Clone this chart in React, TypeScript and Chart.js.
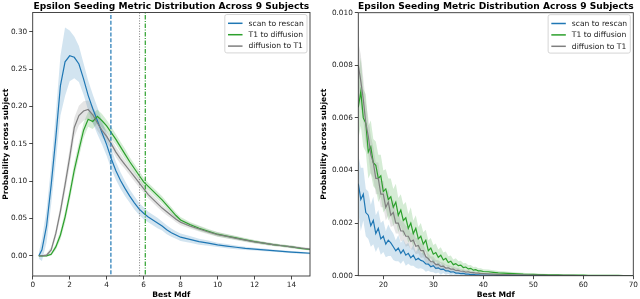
import React, { useEffect, useRef } from "react";
import { Chart, registerables } from "chart.js";
Chart.register(...registerables);

const TITLE = "Epsilon Seeding Metric Distribution Across 9 Subjects";
const X_LABEL = "Best Mdf";
const Y_LABEL = "Probability across subject";
const SERIES_LABELS = ["scan to rescan", "T1 to diffusion", "diffusion to T1"];
const COLORS = ["#1f77b4", "#2ca02c", "#7f7f7f"];
const BAND_COLORS = ["rgba(31,119,180,0.2)", "rgba(44,160,44,0.2)", "rgba(127,127,127,0.2)"];
const THRESHOLD_DASH = [[4, 1.8], [4.5, 1.5, 1, 1.5], [1, 1.6]];
const THRESHOLD_WIDTH = [1.2, 1.2, 1];

// ---------- Left panel (0..15) ----------
const leftX = [0.33, 0.5, 0.75, 1, 1.25, 1.5, 1.75, 2, 2.25, 2.5, 2.75, 3, 3.25, 3.5, 3.75, 4, 4.25, 4.5, 4.75, 5,
  5.25, 5.5, 5.75, 6, 6.25, 6.5, 6.75, 7, 7.25, 7.5, 7.75, 8, 8.5, 9, 9.5, 10, 10.5, 11, 11.5, 12, 12.5, 13, 13.5, 14, 14.5, 15];
const leftScanMean = [0, 0.008, 0.04, 0.095, 0.158, 0.228, 0.26, 0.268, 0.266, 0.257, 0.237, 0.215, 0.197, 0.181, 0.165,
  0.149, 0.13, 0.114, 0.101, 0.09, 0.08, 0.071, 0.063, 0.057, 0.052, 0.048, 0.044, 0.04, 0.035, 0.031, 0.028, 0.025,
  0.022, 0.019, 0.017, 0.0147, 0.013, 0.0115, 0.01, 0.009, 0.008, 0.007, 0.006, 0.005, 0.0042, 0.0035];
const leftScanSpread = [0.004, 0.015, 0.022, 0.026, 0.032, 0.04, 0.046, 0.034, 0.028, 0.024, 0.021, 0.02, 0.019, 0.018, 0.016,
  0.015, 0.014, 0.012, 0.011, 0.01, 0.009, 0.009, 0.008, 0.008, 0.007, 0.007, 0.007, 0.006, 0.006, 0.0055, 0.005, 0.005,
  0.0045, 0.004, 0.0035, 0.003, 0.0028, 0.0025, 0.0022, 0.002, 0.0018, 0.0016, 0.0015, 0.0014, 0.0013, 0.0012];
const leftT1Mean = [0, 0, 0, 0.002, 0.012, 0.028, 0.052, 0.082, 0.115, 0.142, 0.168, 0.183, 0.18, 0.187, 0.181,
  0.174, 0.165, 0.156, 0.146, 0.136, 0.126, 0.117, 0.108, 0.099, 0.093, 0.087, 0.081, 0.075, 0.068, 0.061, 0.054, 0.048,
  0.042, 0.037, 0.033, 0.029, 0.0265, 0.024, 0.0215, 0.019, 0.017, 0.015, 0.0135, 0.012, 0.01, 0.0085];
const leftT1Spread = [0.001, 0.001, 0.001, 0.002, 0.004, 0.006, 0.008, 0.009, 0.01, 0.01, 0.01, 0.01, 0.01, 0.009, 0.009,
  0.008, 0.008, 0.007, 0.007, 0.007, 0.006, 0.006, 0.006, 0.006, 0.005, 0.005, 0.005, 0.005, 0.0045, 0.0045, 0.004, 0.004,
  0.0035, 0.0035, 0.003, 0.003, 0.0028, 0.0026, 0.0024, 0.0022, 0.002, 0.0019, 0.0018, 0.0017, 0.0016, 0.0015];
const leftDiffMean = [0, 0, 0.001, 0.008, 0.03, 0.06, 0.095, 0.132, 0.172, 0.188, 0.194, 0.196, 0.189, 0.178, 0.168,
  0.16, 0.15, 0.139, 0.13, 0.122, 0.114, 0.106, 0.098, 0.09, 0.082, 0.076, 0.07, 0.064, 0.059, 0.054, 0.049, 0.045,
  0.04, 0.036, 0.032, 0.0285, 0.026, 0.0235, 0.021, 0.0187, 0.017, 0.015, 0.0135, 0.012, 0.0105, 0.009];
const leftDiffSpread = [0.001, 0.001, 0.002, 0.004, 0.006, 0.008, 0.01, 0.012, 0.013, 0.013, 0.013, 0.012, 0.011, 0.01, 0.009,
  0.008, 0.007, 0.007, 0.007, 0.006, 0.006, 0.006, 0.006, 0.005, 0.005, 0.005, 0.005, 0.0045, 0.0045, 0.004, 0.004, 0.004,
  0.0035, 0.0035, 0.003, 0.003, 0.0028, 0.0026, 0.0024, 0.0022, 0.002, 0.0019, 0.0018, 0.0017, 0.0016, 0.0015];
// Median thresholds: scan to rescan, T1 to diffusion, diffusion to T1
const leftThresholds = [4.23, 6.09, 5.78];
const leftXTicks = [0, 2, 4, 6, 8, 10, 12, 14];
const leftYTicks = [0, 0.05, 0.1, 0.15, 0.2, 0.25, 0.3];

// ---------- Right panel (15..70) ----------
const rightX = [15, 15.5, 16, 16.5, 17, 17.5, 18, 18.5, 19, 19.5,
  20, 20.5, 21, 21.5, 22, 22.5, 23, 23.5, 24, 24.5,
  25, 25.5, 26, 26.5, 27, 27.5, 28, 28.5, 29, 29.5,
  30, 30.5, 31, 31.5, 32, 32.5, 33, 33.5, 34, 34.5,
  35, 35.5, 36, 36.5, 37, 37.5, 38, 38.5, 39, 39.5,
  40, 41, 42, 43, 44, 45, 46, 47, 48, 49,
  50, 51, 52, 53, 54, 55, 56, 57, 58, 59,
  60, 61, 62, 63, 64, 65, 66, 67, 68, 69, 70];
const rightScanMean = [0.0035, 0.0029, 0.0031, 0.0024, 0.0023, 0.0019, 0.0021, 0.0016, 0.0018, 0.0014,
  0.0015, 0.0012, 0.00135, 0.00125, 0.0011, 0.00095, 0.00105, 0.00085, 0.00098, 0.00078,
  0.00085, 0.00068, 0.00078, 0.0006, 0.00066, 0.00058, 0.00055, 0.00045, 0.00044, 0.00034,
  0.00038, 0.00028, 0.0003, 0.00024, 0.00025, 0.00018, 0.00018, 0.00014, 0.00015, 0.0001,
  0.0001, 0.00008, 0.00009, 0.00006, 0.00006, 0.00004, 0.00005, 0.00003, 0.00003, 0.00002,
  0.00002, 0.00002, 0.00002, 0.00001, 0.000015, 0.00001, 0.00001, 0.000005, 0.00001, 0.000005,
  0.000005, 0.000005, 0.000003, 0.000005, 0.000003, 0.000002, 0.000003, 0.000002, 0.000002, 0.000003,
  0.000002, 0.000001, 0.000002, 0.000001, 0.000002, 0.000001, 0.000001, 0.000001, 0.000001, 0.000001, 0.000001];
const rightScanSpread = [0.0011, 0.0012, 0.001, 0.0009, 0.0009, 0.0008, 0.0009, 0.0007, 0.0007, 0.0006,
  0.0006, 0.0005, 0.0006, 0.0005, 0.0005, 0.0004, 0.0005, 0.0004, 0.0004, 0.0004,
  0.0004, 0.0003, 0.0004, 0.0003, 0.0004, 0.0003, 0.0003, 0.0003, 0.00025, 0.0002,
  0.00025, 0.0002, 0.00018, 0.0002, 0.00015, 0.00014, 0.00012, 0.00012, 0.0001, 0.00009,
  0.00008, 0.00007, 0.00007, 0.00006, 0.00005, 0.00005, 0.00004, 0.00004, 0.00003, 0.00003,
  0.00003, 0.00003, 0.00002, 0.00002, 0.00002, 0.00002, 0.00001, 0.00001, 0.00001, 0.00001,
  0.00001, 0.00001, 0.000008, 0.00001, 0.000008, 0.000006, 0.000008, 0.000006, 0.000006, 0.000008,
  0.000006, 0.000004, 0.000006, 0.000004, 0.000006, 0.000004, 0.000004, 0.000004, 0.000004, 0.000004, 0.000004];
const rightT1Mean = [0.0064, 0.007, 0.006, 0.0058, 0.0047, 0.0049, 0.0043, 0.0042, 0.0037, 0.0038,
  0.0032, 0.0033, 0.0029, 0.003, 0.0026, 0.0028, 0.0023, 0.0025, 0.0021, 0.0022,
  0.0018, 0.002, 0.0016, 0.0018, 0.0014, 0.0015, 0.0012, 0.00135, 0.00095, 0.00105,
  0.00082, 0.00088, 0.0007, 0.00078, 0.0006, 0.00066, 0.0005, 0.00055, 0.00042, 0.00046,
  0.00038, 0.0004, 0.00031, 0.00033, 0.00026, 0.00028, 0.00021, 0.00023, 0.00018, 0.00018,
  0.00016, 0.00015, 0.00013, 0.00011, 0.0001, 0.00009, 0.00008, 0.00007, 0.00006, 0.000055,
  0.00005, 0.000045, 0.00004, 0.000035, 0.00003, 0.00003, 0.000025, 0.000025, 0.00002, 0.00002,
  0.00002, 0.000015, 0.000015, 0.000012, 0.000012, 0.00001, 0.00001, 0.00001, 0.000008, 0.000008, 0.000008];
const rightT1Spread = [0.0012, 0.0013, 0.0011, 0.0011, 0.001, 0.001, 0.0009, 0.0009, 0.0009, 0.0008,
  0.0008, 0.00075, 0.0008, 0.0007, 0.0007, 0.0007, 0.00065, 0.0006, 0.0006, 0.0006,
  0.00055, 0.0006, 0.0005, 0.0005, 0.00045, 0.0005, 0.00045, 0.0004, 0.0004, 0.00038,
  0.00035, 0.00034, 0.0003, 0.0003, 0.00028, 0.00026, 0.00024, 0.00022, 0.0002, 0.0002,
  0.00018, 0.00017, 0.00016, 0.00015, 0.00014, 0.00013, 0.00012, 0.00011, 0.0001, 0.0001,
  0.00009, 0.00009, 0.00008, 0.00007, 0.00007, 0.00006, 0.00006, 0.00005, 0.00005, 0.00004,
  0.00004, 0.00004, 0.00003, 0.00003, 0.00003, 0.00003, 0.00002, 0.00002, 0.00002, 0.00002,
  0.00002, 0.000015, 0.000015, 0.000015, 0.000015, 0.00001, 0.00001, 0.00001, 0.00001, 0.00001, 0.00001];
const rightDiffMean = [0.008, 0.0074, 0.0067, 0.0058, 0.0053, 0.0046, 0.0043, 0.0037, 0.0037, 0.0031,
  0.0031, 0.0026, 0.0028, 0.0023, 0.0024, 0.002, 0.002, 0.0017, 0.0017, 0.0015,
  0.0015, 0.0013, 0.00135, 0.00112, 0.00115, 0.00095, 0.00095, 0.00072, 0.00065, 0.00053,
  0.00053, 0.00042, 0.00043, 0.00035, 0.00036, 0.00029, 0.0003, 0.00025, 0.00025, 0.0002,
  0.0002, 0.00017, 0.00017, 0.00014, 0.00015, 0.00012, 0.00012, 0.0001, 0.0001, 0.00008,
  0.00008, 0.00007, 0.00006, 0.00005, 0.000045, 0.00004, 0.000035, 0.00003, 0.00003, 0.000025,
  0.00002, 0.00002, 0.00002, 0.000015, 0.000015, 0.00001, 0.000012, 0.00001, 0.00001, 0.000008,
  0.000008, 0.000006, 0.000008, 0.000005, 0.000005, 0.000005, 0.000004, 0.000004, 0.000003, 0.000003, 0.000003];
const rightDiffSpread = [0.0009, 0.001, 0.0008, 0.0008, 0.0007, 0.0007, 0.0006, 0.0006, 0.0006, 0.0005,
  0.0005, 0.0005, 0.0005, 0.00045, 0.0005, 0.0004, 0.0004, 0.0004, 0.00035, 0.0004,
  0.00035, 0.0003, 0.00035, 0.0003, 0.0003, 0.00028, 0.00025, 0.00025, 0.0002, 0.0002,
  0.0002, 0.00018, 0.00016, 0.00016, 0.00014, 0.00013, 0.00012, 0.00011, 0.0001, 0.0001,
  0.00009, 0.00008, 0.00008, 0.00007, 0.00007, 0.00006, 0.00006, 0.00005, 0.00005, 0.00005,
  0.00004, 0.00004, 0.00004, 0.00003, 0.00003, 0.00003, 0.00003, 0.00002, 0.00002, 0.00002,
  0.00002, 0.00002, 0.000015, 0.000015, 0.000015, 0.00001, 0.00001, 0.00001, 0.00001, 0.00001,
  0.00001, 0.000008, 0.000008, 0.000008, 0.000008, 0.000006, 0.000006, 0.000006, 0.000006, 0.000006, 0.000006];
const rightXTicks = [20, 30, 40, 50, 60, 70];
const rightYTicks = [0, 0.002, 0.004, 0.006, 0.008, 0.01];

const FONT = "'DejaVu Sans', 'Liberation Sans', sans-serif";
const FRAME = "#333333";

type Panel = {
  xs: number[];
  means: number[][];
  spreads: number[][];
  thresholds: number[] | null;
  xMin: number; xMax: number; yMin: number; yMax: number;
  xTicks: number[]; yTicks: number[]; yDigits: number;
  yAxisWidth: number; xAxisHeight: number; padRight: number; padTop: number; yTitlePad: number;
};

const leftPanel: Panel = {
  xs: leftX,
  means: [leftScanMean, leftT1Mean, leftDiffMean],
  spreads: [leftScanSpread, leftT1Spread, leftDiffSpread],
  thresholds: leftThresholds,
  xMin: 0, xMax: 15, yMin: -0.027, yMax: 0.326,
  xTicks: leftXTicks, yTicks: leftYTicks, yDigits: 2,
  yAxisWidth: 32.7, xAxisHeight: 23, padRight: 10, padTop: 12.5, yTitlePad: 2.5,
};
const rightPanel: Panel = {
  xs: rightX,
  means: [rightScanMean, rightT1Mean, rightDiffMean],
  spreads: [rightScanSpread, rightT1Spread, rightDiffSpread],
  thresholds: null,
  xMin: 15, xMax: 70, yMin: 0, yMax: 0.01,
  xTicks: rightXTicks, yTicks: rightYTicks, yDigits: 3,
  yAxisWidth: 38.3, xAxisHeight: 23.3, padRight: 6.7, padTop: 12.7, yTitlePad: 0.5,
};

const titlePlugin = {
  id: "panelTitle",
  afterDraw(chart: any) {
    const { ctx, chartArea } = chart;
    ctx.save();
    ctx.font = `bold 9.1px ${FONT}`;
    ctx.fillStyle = "#000";
    ctx.textAlign = "center";
    ctx.textBaseline = "alphabetic";
    ctx.fillText(TITLE, (chartArea.left + chartArea.right) / 2, 8.6);
    ctx.restore();
  },
};

const framePlugin = {
  id: "frame",
  afterDatasetsDraw(chart: any) {
    const { ctx, chartArea } = chart;
    ctx.save();
    ctx.strokeStyle = FRAME;
    ctx.lineWidth = 0.9;
    ctx.strokeRect(chartArea.left, chartArea.top, chartArea.right - chartArea.left, chartArea.bottom - chartArea.top);
    ctx.restore();
  },
};

const legendPlugin = {
  id: "boxLegend",
  afterDraw(chart: any) {
    const { ctx, chartArea } = chart;
    const fs = 7.6;
    ctx.save();
    ctx.font = `${fs}px ${FONT}`;
    const tw = Math.max(...SERIES_LABELS.map((t) => ctx.measureText(t).width));
    const pad = 3.2, handle = 14.5, gap = 6;
    const rowH = 11.4;
    const w = pad + handle + gap + tw + pad;
    const h = 38.4;
    const x0 = chartArea.right - 3 - w;
    const y0 = chartArea.top + 2;
    ctx.beginPath();
    const r = 2;
    ctx.moveTo(x0 + r, y0);
    ctx.lineTo(x0 + w - r, y0);
    ctx.quadraticCurveTo(x0 + w, y0, x0 + w, y0 + r);
    ctx.lineTo(x0 + w, y0 + h - r);
    ctx.quadraticCurveTo(x0 + w, y0 + h, x0 + w - r, y0 + h);
    ctx.lineTo(x0 + r, y0 + h);
    ctx.quadraticCurveTo(x0, y0 + h, x0, y0 + h - r);
    ctx.lineTo(x0, y0 + r);
    ctx.quadraticCurveTo(x0, y0, x0 + r, y0);
    ctx.closePath();
    ctx.fillStyle = "rgba(255,255,255,0.8)";
    ctx.fill();
    ctx.strokeStyle = "#cccccc";
    ctx.lineWidth = 0.8;
    ctx.stroke();
    SERIES_LABELS.forEach((label, i) => {
      const cy = y0 + 8.8 + i * rowH;
      ctx.strokeStyle = COLORS[i];
      ctx.lineWidth = 1.5;
      ctx.beginPath();
      ctx.moveTo(x0 + pad, cy);
      ctx.lineTo(x0 + pad + handle, cy);
      ctx.stroke();
      ctx.fillStyle = "#222";
      ctx.textAlign = "left";
      ctx.textBaseline = "middle";
      ctx.fillText(label, x0 + pad + handle + gap, cy + 0.3);
    });
    ctx.restore();
  },
};

function buildConfig(p: Panel): any {
  const datasets: any[] = [];
  p.means.forEach((mean, s) => {
    datasets.push({
      label: SERIES_LABELS[s] + " upper",
      data: p.xs.map((x, i) => ({ x, y: mean[i] + p.spreads[s][i] })),
      fill: "+1",
      backgroundColor: BAND_COLORS[s],
      borderWidth: 0,
      pointRadius: 0,
      order: 20 - s * 2,
    });
    datasets.push({
      label: SERIES_LABELS[s] + " lower",
      data: p.xs.map((x, i) => ({ x, y: mean[i] - p.spreads[s][i] })),
      fill: false,
      borderWidth: 0,
      pointRadius: 0,
      order: 19 - s * 2,
    });
  });
  p.means.forEach((mean, s) => {
    datasets.push({
      label: SERIES_LABELS[s],
      data: p.xs.map((x, i) => ({ x, y: mean[i] })),
      borderColor: COLORS[s],
      borderWidth: 1.2,
      pointRadius: 0,
      fill: false,
      tension: 0,
      order: 6 - s,
    });
  });
  if (p.thresholds) {
    p.thresholds.forEach((t, s) => {
      datasets.push({
        label: SERIES_LABELS[s] + " median",
        data: [{ x: t, y: p.yMin - 1 }, { x: t, y: p.yMax + 1 }],
        borderColor: COLORS[s],
        borderWidth: THRESHOLD_WIDTH[s],
        borderDash: THRESHOLD_DASH[s],
        pointRadius: 0,
        fill: false,
        order: 1,
      });
    });
  }
  const tickFont = { family: FONT, size: 7.3 };
  const titleFont = { family: FONT, size: 7.6, weight: "bold" as const, lineHeight: 1 };
  return {
    type: "line",
    data: { datasets },
    options: {
      animation: false,
      responsive: false,
      maintainAspectRatio: false,
      events: [],
      layout: { padding: { left: 0, right: p.padRight, top: p.padTop, bottom: 0 } },
      plugins: { legend: { display: false }, tooltip: { enabled: false }, title: { display: false } },
      scales: {
        x: {
          type: "linear",
          min: p.xMin,
          max: p.xMax,
          afterBuildTicks: (scale: any) => { scale.ticks = p.xTicks.map((v) => ({ value: v })); },
          afterFit: (scale: any) => { scale.height = p.xAxisHeight; },
          ticks: { font: tickFont, color: "#222", padding: 1.5, maxRotation: 0, autoSkip: false, callback: (v: any) => String(v) },
          grid: { display: true, drawOnChartArea: false, drawTicks: true, tickLength: 3.5, color: FRAME, lineWidth: 0.9 },
          border: { display: false },
          title: { display: true, text: X_LABEL, font: titleFont, color: "#000", padding: { top: 0, bottom: 0 } },
        },
        y: {
          type: "linear",
          min: p.yMin,
          max: p.yMax,
          afterBuildTicks: (scale: any) => { scale.ticks = p.yTicks.map((v) => ({ value: v })); },
          afterFit: (scale: any) => { scale.width = p.yAxisWidth; },
          ticks: { font: tickFont, color: "#222", padding: 2, autoSkip: false, callback: (v: any) => Number(v).toFixed(p.yDigits) },
          grid: { display: true, drawOnChartArea: false, drawTicks: true, tickLength: 3.5, color: FRAME, lineWidth: 0.9 },
          border: { display: false },
          title: { display: true, text: Y_LABEL, font: titleFont, color: "#000", padding: { top: p.yTitlePad, bottom: 0 } },
        },
      },
    },
    plugins: [framePlugin, titlePlugin, legendPlugin],
  };
}

function PanelChart({ panel }: { panel: Panel }) {
  const ref = useRef<HTMLCanvasElement | null>(null);
  useEffect(() => {
    if (!ref.current) return;
    const chart = new Chart(ref.current, buildConfig(panel));
    return () => chart.destroy();
  }, [panel]);
  return <canvas ref={ref} width={320} height={299} style={{ display: "block", width: 320, height: 299 }} />;
}

export default function App() {
  useEffect(() => {
    document.body.style.margin = "0";
    document.body.style.background = "#fff";
  }, []);
  return (
    <div style={{ display: "flex", width: 640, height: 299, background: "#fff" }}>
      <PanelChart panel={leftPanel} />
      <PanelChart panel={rightPanel} />
    </div>
  );
}
